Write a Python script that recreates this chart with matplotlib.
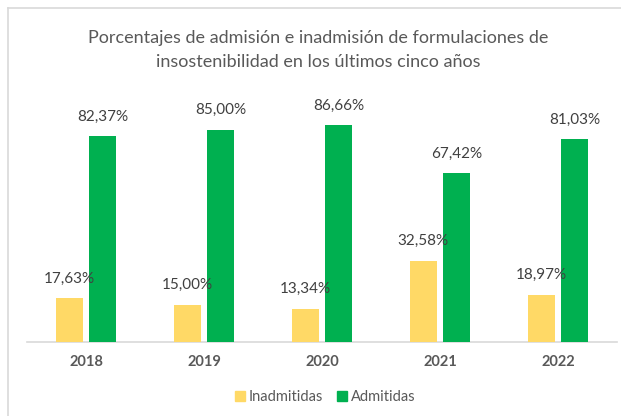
import matplotlib
matplotlib.use("Agg")
import matplotlib.pyplot as plt
from matplotlib.lines import Line2D
import numpy as np

years = ["2018", "2019", "2020", "2021", "2022"]
inadmitidas = [17.63, 15.00, 13.34, 32.58, 18.97]
admitidas = [82.37, 85.00, 86.66, 67.42, 81.03]
series_names = ["Inadmitidas", "Admitidas"]
title = "Porcentajes de admisión e inadmisión de formulaciones de\ninsostenibilidad en los últimos cinco años"

col_y = "#FFD966"
col_g = "#00B050"
txt = "#595959"
font = ["Lato", "DejaVu Sans"]

W, H = 621, 416
fig = plt.figure(figsize=(W / 100, H / 100), dpi=100)
ax = fig.add_axes([27 / W, 1 - 342 / H, (617 - 27) / W, 250 / H])

x = np.arange(len(years))
bw = 0.225
off = 0.142
b1 = ax.bar(x - off, inadmitidas, bw, color=col_y, label=series_names[0], zorder=3)
b2 = ax.bar(x + off, admitidas, bw, color=col_g, label=series_names[1], zorder=3)

for bars, vals in ((b1, inadmitidas), (b2, admitidas)):
    for r, v in zip(bars, vals):
        ax.annotate(f"{v:.2f}%".replace(".", ","),
                    (r.get_x() + r.get_width() / 2, v),
                    xytext=(0, 9), textcoords="offset points",
                    ha="center", va="bottom", fontsize=11, color="#404040",
                    family=font)

ax.set_xlim(-0.5, len(years) - 0.5)
ax.set_ylim(0, 100)
ax.set_xticks(x)
ax.set_xticklabels(years, fontsize=10.5, fontweight="bold", color=txt, family=font)
ax.tick_params(axis="x", length=0, pad=9)
ax.set_yticks([])
for s in ("top", "right", "left"):
    ax.spines[s].set_visible(False)
ax.spines["bottom"].set_color("#D9D9D9")
ax.spines["bottom"].set_linewidth(1.2)

fig.text(318 / W, 1 - 50 / H, title, ha="center", va="center", fontsize=13,
         color=txt, family=font, linespacing=1.55)

handles = [Line2D([], [], marker="s", color="none", markerfacecolor=col_y,
                  markeredgecolor=col_y, markersize=7),
           Line2D([], [], marker="s", color="none", markerfacecolor=col_g,
                  markeredgecolor=col_g, markersize=7)]
leg = fig.legend(handles, series_names, loc="center", bbox_to_anchor=(324 / W, 1 - 397 / H),
                 ncol=2, frameon=False, handletextpad=0.1, columnspacing=0.8,
                 handlelength=1.0, prop={"family": font, "size": 10.5})
for t in leg.get_texts():
    t.set_color(txt)

fig.add_artist(Line2D([8 / W, 8 / W], [0, 1 - 8 / H], color="#D9D9D9", lw=1.2,
                      transform=fig.transFigure))
fig.add_artist(Line2D([8 / W, 1], [1 - 8 / H, 1 - 8 / H], color="#D9D9D9", lw=1.2,
                      transform=fig.transFigure))

fig.savefig("out.png", dpi=100)
